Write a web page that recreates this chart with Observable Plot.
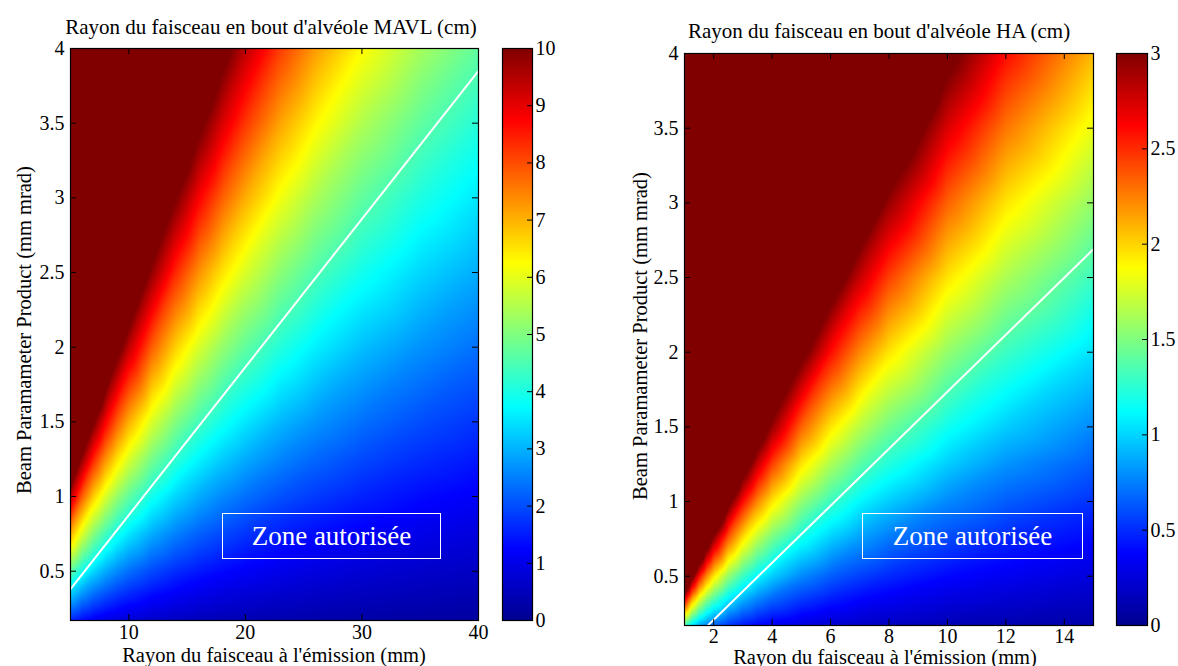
<!DOCTYPE html>
<html><head><meta charset="utf-8">
<script src="https://cdn.jsdelivr.net/npm/d3@7"></script>
<script src="https://cdn.jsdelivr.net/npm/@observablehq/plot@0.6"></script>
<style>
body{margin:0;width:1178px;height:666px;background:#fff;position:relative;overflow:hidden;font-family:"Liberation Serif","Times New Roman",serif;color:#000;}
.txt{position:absolute;white-space:nowrap;transform:translate(-50%,-50%);font-size:20.5px;line-height:1;}
.title{font-size:21px;}
.ylab{position:absolute;white-space:nowrap;transform:translate(-50%,-50%) rotate(-90deg);font-size:20.5px;line-height:1;}
.zone{position:absolute;border:1.5px solid #fff;color:#fff;font-size:27px;display:flex;align-items:center;justify-content:center;box-sizing:border-box;white-space:nowrap;}
</style></head><body>
<script>
// ---------- DATA ----------
// Left panel: MAVL — beam radius at the end of the cell (cm)
const mavlW0 = [5, 6, 7, 8, 9, 10, 12, 14, 16, 18, 20, 23, 26, 30, 35, 40];   // mm
const mavlBPP = [0.17, 0.35, 0.5, 0.75, 1, 1.25, 1.5, 2, 2.5, 3, 3.5, 4];     // mm mrad
const mavlRadius = [                                                        // rows = BPP
  [1.6, 1.33, 1.14, 1.0, 0.89, 0.8, 0.67, 0.57, 0.5, 0.44, 0.4, 0.35, 0.31, 0.27, 0.23, 0.2],
  [3.29, 2.74, 2.35, 2.06, 1.83, 1.65, 1.37, 1.18, 1.03, 0.91, 0.82, 0.72, 0.63, 0.55, 0.47, 0.41],
  [4.7, 3.92, 3.36, 2.94, 2.61, 2.35, 1.96, 1.68, 1.47, 1.31, 1.18, 1.02, 0.9, 0.78, 0.67, 0.59],
  [7.05, 5.88, 5.04, 4.41, 3.92, 3.53, 2.94, 2.52, 2.2, 1.96, 1.76, 1.53, 1.36, 1.18, 1.01, 0.88],
  [9.4, 7.83, 6.71, 5.88, 5.22, 4.7, 3.92, 3.36, 2.94, 2.61, 2.35, 2.04, 1.81, 1.57, 1.34, 1.18],
  [11.75, 9.79, 8.39, 7.34, 6.53, 5.88, 4.9, 4.2, 3.67, 3.26, 2.94, 2.55, 2.26, 1.96, 1.68, 1.47],
  [14.1, 11.75, 10.07, 8.81, 7.83, 7.05, 5.88, 5.04, 4.41, 3.92, 3.53, 3.06, 2.71, 2.35, 2.01, 1.76],
  [18.8, 15.67, 13.43, 11.75, 10.44, 9.4, 7.83, 6.71, 5.88, 5.22, 4.7, 4.09, 3.62, 3.13, 2.69, 2.35],
  [23.5, 19.58, 16.79, 14.69, 13.06, 11.75, 9.79, 8.39, 7.34, 6.53, 5.88, 5.11, 4.52, 3.92, 3.36, 2.94],
  [28.2, 23.5, 20.14, 17.63, 15.67, 14.1, 11.75, 10.07, 8.81, 7.83, 7.05, 6.13, 5.42, 4.7, 4.03, 3.53],
  [32.9, 27.42, 23.5, 20.56, 18.28, 16.45, 13.71, 11.75, 10.28, 9.14, 8.23, 7.15, 6.33, 5.48, 4.7, 4.11],
  [37.6, 31.33, 26.86, 23.5, 20.89, 18.8, 15.67, 13.43, 11.75, 10.44, 9.4, 8.17, 7.23, 6.27, 5.37, 4.7]
];
const mavlLimitW0 = [5, 40];
const mavlLimitBPP = [0.38, 3.85];
const mavlXTicks = [10, 20, 30, 40];
const mavlYTicks = [0.5, 1, 1.5, 2, 2.5, 3, 3.5, 4];
const mavlCbTicks = [0, 1, 2, 3, 4, 5, 6, 7, 8, 9, 10];

// Right panel: HA
const haW0 = [1, 1.25, 1.5, 1.75, 2, 2.5, 3, 3.5, 4, 5, 6, 7, 8, 10, 12, 15];
const haBPP = [0.17, 0.35, 0.5, 0.75, 1, 1.25, 1.5, 2, 2.5, 3, 3.5, 4];
const haRadius = [
  [1.33, 1.06, 0.88, 0.76, 0.66, 0.53, 0.44, 0.38, 0.33, 0.27, 0.22, 0.19, 0.17, 0.13, 0.11, 0.09],
  [2.73, 2.18, 1.82, 1.56, 1.37, 1.09, 0.91, 0.78, 0.68, 0.55, 0.46, 0.39, 0.34, 0.27, 0.23, 0.18],
  [3.9, 3.12, 2.6, 2.23, 1.95, 1.56, 1.3, 1.11, 0.98, 0.78, 0.65, 0.56, 0.49, 0.39, 0.33, 0.26],
  [5.85, 4.68, 3.9, 3.34, 2.93, 2.34, 1.95, 1.67, 1.46, 1.17, 0.98, 0.84, 0.73, 0.59, 0.49, 0.39],
  [7.8, 6.24, 5.2, 4.46, 3.9, 3.12, 2.6, 2.23, 1.95, 1.56, 1.3, 1.11, 0.98, 0.78, 0.65, 0.52],
  [9.75, 7.8, 6.5, 5.57, 4.88, 3.9, 3.25, 2.79, 2.44, 1.95, 1.63, 1.39, 1.22, 0.98, 0.81, 0.65],
  [11.7, 9.36, 7.8, 6.69, 5.85, 4.68, 3.9, 3.34, 2.93, 2.34, 1.95, 1.67, 1.46, 1.17, 0.98, 0.78],
  [15.6, 12.48, 10.4, 8.91, 7.8, 6.24, 5.2, 4.46, 3.9, 3.12, 2.6, 2.23, 1.95, 1.56, 1.3, 1.04],
  [19.5, 15.6, 13, 11.14, 9.75, 7.8, 6.5, 5.57, 4.88, 3.9, 3.25, 2.79, 2.44, 1.95, 1.63, 1.3],
  [23.4, 18.72, 15.6, 13.37, 11.7, 9.36, 7.8, 6.69, 5.85, 4.68, 3.9, 3.34, 2.93, 2.34, 1.95, 1.56],
  [27.3, 21.84, 18.2, 15.6, 13.65, 10.92, 9.1, 7.8, 6.83, 5.46, 4.55, 3.9, 3.41, 2.73, 2.28, 1.82],
  [31.2, 24.96, 20.8, 17.83, 15.6, 12.48, 10.4, 8.91, 7.8, 6.24, 5.2, 4.46, 3.9, 3.12, 2.6, 2.08]
];
const haLimitW0 = [1.8, 15];
const haLimitBPP = [0.17, 2.69];
const haXTicks = [2, 4, 6, 8, 10, 12, 14];
const haYTicks = [0.5, 1, 1.5, 2, 2.5, 3, 3.5, 4];
const haCbTicks = [0, 0.5, 1, 1.5, 2, 2.5, 3];

// ---------- RENDERING ----------
const jetStops = [0, 0.125, 0.375, 0.625, 0.875, 1];
const jetColors = ["#00008f", "#0000ff", "#00ffff", "#ffff00", "#ff0000", "#800000"];
const FONT = "Liberation Serif";

function table(xs, ys, vals) {
  const out = [];
  ys.forEach((y, i) => xs.forEach((x, j) => out.push({x, y, v: vals[i][j]})));
  return out;
}

function place(el, left, top) {
  el.style.position = "absolute";
  el.style.left = left + "px";
  el.style.top = top + "px";
  document.body.appendChild(el);
}

function addText(cls, text, x, y) {
  const d = document.createElement("div");
  d.className = cls; d.textContent = text;
  d.style.left = x + "px"; d.style.top = y + "px";
  document.body.appendChild(d);
}

function panel(cfg) {
  const mL = 60, mR = 8, mT = 8, mB = 40;
  const {plotLeft, plotTop, plotW, plotH, xs, ys, vals, lineX, lineY, xTicks, yTicks, vMax, cbLeft, cbW, cbTicks, xPad} = cfg;
  const xDomain = [xs[0], xs[xs.length - 1]];
  const yDomain = [ys[0], ys[ys.length - 1]];
  const color = {type: "linear", domain: jetStops.map(t => t * vMax), range: jetColors, interpolate: "rgb", clamp: true};
  const lineData = lineX.map((x, i) => ({x, y: lineY[i]}));
  const style = {fontFamily: FONT, fontSize: "20px", color: "black", background: "transparent", overflow: "visible"};
  const main = Plot.plot({
    width: mL + plotW + mR, height: mT + plotH + mB,
    marginLeft: mL, marginRight: mR, marginTop: mT, marginBottom: mB,
    x: {domain: xDomain}, y: {domain: yDomain}, color, style,
    marks: [
      Plot.raster(table(xs, ys, vals), {x: "x", y: "y", fill: "v", interpolate: "barycentric",
        x1: xDomain[0], x2: xDomain[1], y1: yDomain[0], y2: yDomain[1]}),
      Plot.line(lineData, {x: "x", y: "y", stroke: "white", strokeWidth: 2}),
      Plot.ruleX(xTicks, {stroke: "black", insetTop: plotH - 6}),
      Plot.ruleX(xTicks, {stroke: "black", insetBottom: plotH - 6}),
      Plot.ruleY(yTicks, {stroke: "black", insetRight: plotW - 6}),
      Plot.ruleY(yTicks, {stroke: "black", insetLeft: plotW - 6}),
      Plot.frame({stroke: "black", strokeWidth: 1.2}),
      Plot.axisX({ticks: xTicks, tickSize: 0, tickPadding: xPad, label: null, tickFormat: d => String(d)}),
      Plot.axisY({ticks: yTicks, tickSize: 0, tickPadding: 6, label: null, tickFormat: d => String(d)})
    ]
  });
  place(main, plotLeft - mL, plotTop - mT);

  const cb = Plot.plot({
    width: 1 + cbW + 36, height: mT + plotH + mB,
    marginLeft: 1, marginRight: 36, marginTop: mT, marginBottom: mB,
    x: {domain: [0, 1], axis: null}, y: {domain: [0, vMax]}, color, style,
    marks: [
      Plot.raster({fill: (x, y) => y, x1: 0, x2: 1, y1: 0, y2: vMax}),
      Plot.ruleY(cbTicks, {stroke: "black", insetLeft: cbW - 5}),
      Plot.frame({stroke: "black", strokeWidth: 1.2}),
      Plot.axisY({anchor: "right", ticks: cbTicks, tickSize: 0, tickPadding: 3, label: null, tickFormat: d => String(d)})
    ]
  });
  place(cb, cbLeft - 1, plotTop - mT);
}

panel({plotLeft: 70, plotTop: 48, plotW: 408, plotH: 572, xPad: 4,
  xs: mavlW0, ys: mavlBPP, vals: mavlRadius, lineX: mavlLimitW0, lineY: mavlLimitBPP,
  xTicks: mavlXTicks, yTicks: mavlYTicks, vMax: 10, cbLeft: 502, cbW: 30, cbTicks: mavlCbTicks});
panel({plotLeft: 684, plotTop: 53, plotW: 409, plotH: 572, xPad: 3,
  xs: haW0, ys: haBPP, vals: haRadius, lineX: haLimitW0, lineY: haLimitBPP,
  xTicks: haXTicks, yTicks: haYTicks, vMax: 3, cbLeft: 1116, cbW: 31, cbTicks: haCbTicks});

addText("txt title", "Rayon du faisceau en bout d'alvéole MAVL (cm)", 271, 27);
addText("txt title", "Rayon du faisceau en bout d'alvéole HA (cm)", 879, 31);
addText("txt", "Rayon du faisceau à l'émission (mm)", 274, 655);
addText("txt", "Rayon du faisceau à l'émission (mm)", 885, 656.5);
addText("ylab", "Beam Paramameter Product (mm mrad)", 24, 330);
addText("ylab", "Beam Paramameter Product (mm mrad)", 640, 336);

for (const [left, w] of [[222, 219], [862, 221]]) {
  const z = document.createElement("div"); z.className = "zone";
  z.textContent = "Zone autorisée";
  Object.assign(z.style, {left: left + "px", top: "513px", width: w + "px", height: "46px"});
  document.body.appendChild(z);
}
</script>
</body></html>
